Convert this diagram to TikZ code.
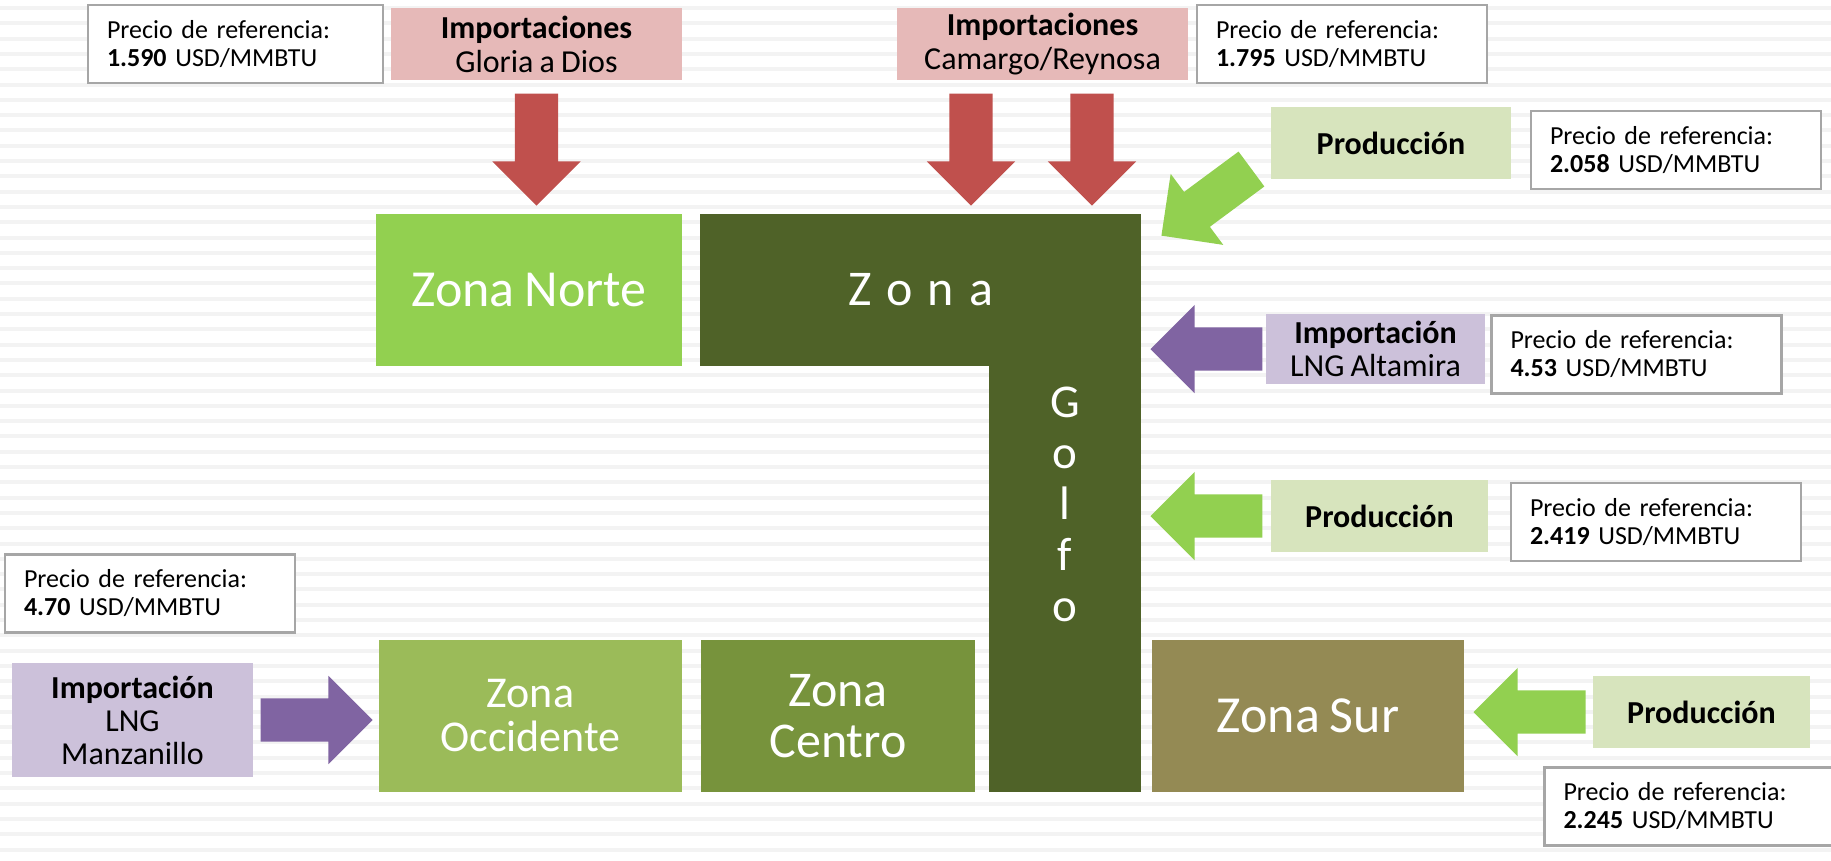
\documentclass[tikz,border=0pt]{standalone}
\usepackage{fontspec}
\setmainfont{Carlito}[WordSpace=0.85]
\usetikzlibrary{shapes.arrows, positioning}

\definecolor{norteGreen}{HTML}{92D050}
\definecolor{golfoGreen}{HTML}{4F6228}
\definecolor{occGreen}{HTML}{9BBB59}
\definecolor{centroGreen}{HTML}{77933C}
\definecolor{surBrown}{HTML}{948A54}
\definecolor{impPink}{HTML}{E6B9B8}
\definecolor{arrowRed}{HTML}{C0504D}
\definecolor{prodGreen}{HTML}{D7E4BD}
\definecolor{lngPurple}{HTML}{CCC1DA}
\definecolor{arrowPurple}{HTML}{8064A2}
\definecolor{priceGray}{HTML}{A6A6A6}
\definecolor{stripeGray}{HTML}{F3F3F3}

\begin{document}
\begin{tikzpicture}[
  x=1pt, y=-1pt,
  every node/.style={inner sep=0pt, align=center},
  zone/.style={rectangle, fill=#1, text=white, minimum height=152pt},
  lab/.style={rectangle, text=black, minimum height=72pt, font=\fontsize{32}{34}\selectfont},
  imp/.style={lab, fill=impPink},
  prod/.style={lab, fill=prodGreen},
  lng/.style={lab, fill=lngPurple, font=\fontsize{32}{33}\selectfont},
  precio/.style={rectangle, draw=priceGray, line width=2.5pt, fill=white, minimum width=290pt, minimum height=78pt,
    text width=252pt, inner xsep=19pt, align=left, font=\fontsize{26}{28}\selectfont},
  bigarrow/.style={single arrow, fill=#1, draw=none, minimum height=112pt, text height=43pt, text depth=0pt,
    single arrow head extend=22.5pt, inner sep=0pt, sloped, allow upside down, at end, anchor=tip},
]
% Background
\useasboundingbox (0,0) rectangle (1831,860);
\fill[white] (0,0) rectangle (1831,860);
\foreach \s in {6,21.3,...,860}
  \fill[stripeGray] (0,\s) rectangle (1831,\s+4);

% Zones
\node[zone=norteGreen, minimum width=306pt, font=\fontsize{52}{54}\selectfont] (zonaNorte) at (529,290) {Zona Norte};
\node[zone=golfoGreen, minimum width=152pt, minimum height=578pt] (golfoStem) at (1065,503) {};
\node[zone=golfoGreen, minimum width=441pt, font=\fontsize{50}{52}\selectfont] (golfoTop) at (920.5,290) {Z\hspace{0.3em}o\hspace{0.3em}n\hspace{0.3em}a};
\node[text=white, font=\fontsize{47}{51}\selectfont] (golfoText) at (1065,504) {G\\o\\l\\f\\o};
\node[zone=occGreen, minimum width=303pt, font=\fontsize{44}{44}\selectfont] (zonaOcc) at (530.5,716) {Zona\\Occidente};
\node[zone=centroGreen, minimum width=274pt, font=\fontsize{50}{51}\selectfont] (zonaCentro) at (838,716) {Zona\\Centro};
\node[zone=surBrown, minimum width=312pt, font=\fontsize{52}{54}\selectfont] (zonaSur) at (1308,716) {Zona Sur};

% Sources
\node[imp, minimum width=291pt] (impGloria) at (536.5,44) {\textbf{Importaciones}\\Gloria a Dios};
\node[imp, minimum width=291pt] (impCamargo) at (1042.5,44) {\textbf{Importaciones}\\Camargo/Reynosa};
\node[prod, minimum width=240pt] (prodNorte) at (1391,143) {\textbf{Producción}};
\node[lng, minimum width=219pt, minimum height=70pt] (impAltamira) at (1375.5,349) {\textbf{Importación}\\LNG Altamira};
\node[prod, minimum width=217pt] (prodGolfo) at (1379.5,516) {\textbf{Producción}};
\node[prod, minimum width=217pt] (prodSur) at (1701.5,712) {\textbf{Producción}};
\node[lng, minimum width=241pt, minimum height=114pt] (impManz) at (132.5,720) {\textbf{Importación}\\LNG\\Manzanillo};

% Reference prices
\node[precio, minimum width=295pt, text width=257pt] (precioGloria) at (235.5,44) {Precio de referencia:\\\textbf{1.590} USD/MMBTU};
\node[precio] (precioCamargo) at (1342,44) {Precio de referencia:\\\textbf{1.795} USD/MMBTU};
\node[precio] (precioNorte) at (1676,150) {Precio de referencia:\\\textbf{2.058} USD/MMBTU};
\node[precio] (precioAltamira) at (1636.5,354.5) {Precio de referencia:\\\textbf{4.53} USD/MMBTU};
\node[precio] (precioGolfo) at (1656,522) {Precio de referencia:\\\textbf{2.419} USD/MMBTU};
\node[precio] (precioOcc) at (150,593.5) {Precio de referencia:\\\textbf{4.70} USD/MMBTU};
\node[precio] (precioSur) at (1689.5,806.5) {Precio de referencia:\\\textbf{2.245} USD/MMBTU};

% Arrows - imports from the north
\path (impGloria.south) -- node[bigarrow=arrowRed] (arrGloria) {} ([yshift=8pt]impGloria.south |- zonaNorte.north);
\path ([xshift=-71.5pt]impCamargo.south) -- node[bigarrow=arrowRed] (arrCamargoA) {} ([xshift=-71.5pt, yshift=8pt]impCamargo.south |- golfoTop.north);
\path ([xshift=49.5pt]impCamargo.south) -- node[bigarrow=arrowRed] (arrCamargoB) {} ([xshift=49.5pt, yshift=8pt]impCamargo.south |- golfoTop.north);

% Arrows - supply into Golfo
\coordinate (diagTip) at ([xshift=20pt, yshift=-22pt]golfoTop.north east);
\path ([yshift=-11.7pt]prodNorte.west) -- node[bigarrow=norteGreen] (arrProdNorte) {} (diagTip);
\path (impAltamira.west) -- node[bigarrow=arrowPurple] (arrAltamira) {} ([xshift=9pt]impAltamira.west -| golfoStem.east);
\path (prodGolfo.west) -- node[bigarrow=norteGreen] (arrProdGolfo) {} ([xshift=9pt]prodGolfo.west -| golfoStem.east);

% Arrows - Sur and Occidente
\path (prodSur.west) -- node[bigarrow=norteGreen] (arrProdSur) {} ([xshift=9pt]prodSur.west -| zonaSur.east);
\path (impManz.east) -- node[bigarrow=arrowPurple] (arrManz) {} ([xshift=-6pt]impManz.east -| zonaOcc.west);
\end{tikzpicture}
\end{document}
